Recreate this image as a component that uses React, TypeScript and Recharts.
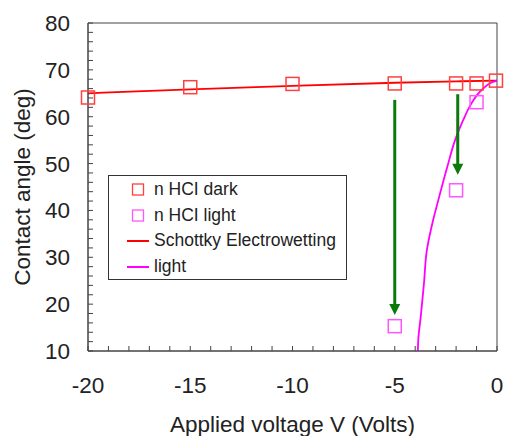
import React from 'react';
import {
  ComposedChart,
  Line,
  Scatter,
  XAxis,
  YAxis,
  Legend,
  ReferenceLine,
  ReferenceDot,
  ReferenceArea
} from 'recharts';

// measured points (voltage V, contact angle deg)
const darkPoints = [
  { x: -20, y: 64.1 },
  { x: -15, y: 66.3 },
  { x: -10, y: 67.0 },
  { x: -5, y: 67.1 },
  { x: -2, y: 67.1 },
  { x: -1, y: 67.1 },
  { x: -0.05, y: 67.7 }
];

const lightPoints = [
  { x: -5, y: 15.3 },
  { x: -2, y: 44.3 },
  { x: -1, y: 63.1 }
];

// fitted curves
const schottkyCurve = [
  { x: -20, y: 65.0 },
  { x: -15, y: 65.85 },
  { x: -10, y: 66.6 },
  { x: -5, y: 67.25 },
  { x: -2, y: 67.55 },
  { x: 0, y: 67.7 }
];

const lightCurve = [
  { x: -3.87, y: 10 },
  { x: -3.85, y: 12.4 },
  { x: -3.73, y: 17.3 },
  { x: -3.57, y: 24.5 },
  { x: -3.44, y: 31.2 },
  { x: -3.12, y: 38 },
  { x: -2.87, y: 42.2 },
  { x: -2.43, y: 49.3 },
  { x: -2.05, y: 55.0 },
  { x: -1.65, y: 59.3 },
  { x: -1.24, y: 62.9 },
  { x: -0.75, y: 65.7 },
  { x: -0.26, y: 67.3 },
  { x: 0, y: 67.7 }
];

// green arrows (from dark value down to light value)
const arrows = [
  { x: -5, from: 63.6, to: 17.7 },
  { x: -1.92, from: 64.8, to: 47.6 }
];

const xTicks = [-20, -19, -18, -17, -16, -15, -14, -13, -12, -11, -10, -9, -8, -7, -6, -5, -4, -3, -2, -1, 0];
const yTicks = [10, 12, 14, 16, 18, 20, 22, 24, 26, 28, 30, 32, 34, 36, 38, 40, 42, 44, 46, 48, 50, 52, 54, 56, 58, 60, 62, 64, 66, 68, 70, 72, 74, 76, 78, 80];

const legendItems = [
  { label: 'n HCI dark', kind: 'square', color: '#ff4040' },
  { label: 'n HCI light', kind: 'square', color: '#ff55ff' },
  { label: 'Schottky Electrowetting', kind: 'line', color: '#ff0000' },
  { label: 'light', kind: 'line', color: '#ff00ff' }
];

const TEXT = '#222';
const AXIS = '#444';
const GREEN = '#0b7a0b';

const squareShape = (color: string) => (props: any) => {
  const { cx, cy } = props;
  return (
    <rect x={cx - 6.5} y={cy - 6.5} width={13} height={13} fill="none" stroke={color} strokeWidth={1.5} />
  );
};

const arrowHead = (props: any) => {
  const { cx, cy } = props;
  return (
    <polygon
      points={`${cx - 5.5},${cy - 11} ${cx + 5.5},${cy - 11} ${cx},${cy}`}
      fill={GREEN}
    />
  );
};

const LegendBox = () => (
  <div
    style={{
      width: 239,
      height: 105,
      boxSizing: 'border-box',
      border: '1px solid #333',
      background: '#fff',
      paddingTop: 1,
      fontSize: 17.5,
      color: TEXT
    }}
  >
    {legendItems.map(item => (
      <div key={item.label} style={{ position: 'relative', height: 25.7 }}>
        <svg width={24} height={26} style={{ position: 'absolute', left: 17, top: 0 }}>
          {item.kind === 'square' ? (
            <rect x={6.5} y={7} width={11} height={11} fill="none" stroke={item.color} strokeWidth={1.3} />
          ) : (
            <line x1={1} x2={23} y1={13} y2={13} stroke={item.color} strokeWidth={2} />
          )}
        </svg>
        <span style={{ position: 'absolute', left: 45, top: 2, whiteSpace: 'nowrap', lineHeight: '20px' }}>
          {item.label}
        </span>
      </div>
    ))}
  </div>
);

const App: React.FC = () => {
  return (
    <div
      style={{
        position: 'absolute',
        left: 0,
        top: 0,
        width: 505,
        height: 436,
        background: '#fff',
        fontFamily: '"Liberation Sans", Arial, sans-serif'
      }}
    >
      <ComposedChart width={505} height={436} margin={{ top: 23, right: 8, bottom: 0, left: 0 }}>
        <XAxis
          dataKey="x"
          type="number"
          domain={[-20, 0]}
          ticks={xTicks}
          interval={0}
          height={85}
          stroke={AXIS}
          tickSize={-5}
          tickMargin={31}
          tick={{ fontSize: 22.5, fill: TEXT }}
          tickFormatter={(v: number) => (v % 5 === 0 ? String(v) : '')}
          label={{ value: 'Applied voltage V (Volts)', position: 'insideBottom', offset: 4, fontSize: 22.5, fill: TEXT }}
        />
        <YAxis
          type="number"
          domain={[10, 80]}
          ticks={yTicks}
          interval={0}
          width={88}
          stroke={AXIS}
          tickSize={-5}
          tickMargin={23}
          tick={{ fontSize: 22.5, fill: TEXT }}
          tickFormatter={(v: number) => (v % 10 === 0 ? String(v) : '')}
          label={{
            value: 'Contact angle (deg)',
            angle: -90,
            position: 'insideLeft',
            offset: 22,
            fontSize: 22.5,
            fill: TEXT,
            style: { textAnchor: 'middle' }
          }}
        />
        <ReferenceArea x1={-20} x2={0} y1={10} y2={80} fill="none" fillOpacity={0} stroke={AXIS} strokeWidth={1} />

        <Line
          data={schottkyCurve}
          dataKey="y"
          type="monotone"
          stroke="#ff0000"
          strokeWidth={1.8}
          dot={false}
          isAnimationActive={false}
        />
        <Line
          data={lightCurve}
          dataKey="y"
          type="monotoneY"
          stroke="#ff00ff"
          strokeWidth={1.8}
          dot={false}
          isAnimationActive={false}
        />
        <Scatter data={darkPoints} dataKey="y" shape={squareShape('#ff4040')} isAnimationActive={false} />
        <Scatter data={lightPoints} dataKey="y" shape={squareShape('#ff55ff')} isAnimationActive={false} />

        {arrows.map(a => (
          <ReferenceLine
            key={`l${a.x}`}
            segment={[{ x: a.x, y: a.from }, { x: a.x, y: a.to + 2 }]}
            stroke={GREEN}
            strokeWidth={3}
          />
        ))}
        {arrows.map(a => (
          <ReferenceDot key={`d${a.x}`} x={a.x} y={a.to} shape={arrowHead} />
        ))}

        <Legend
          layout="vertical"
          align="center"
          verticalAlign="middle"
          content={<LegendBox />}
          wrapperStyle={{ position: 'absolute', left: 108, top: 175, width: 239, height: 105 }}
        />
      </ComposedChart>
    </div>
  );
};

export default App;
